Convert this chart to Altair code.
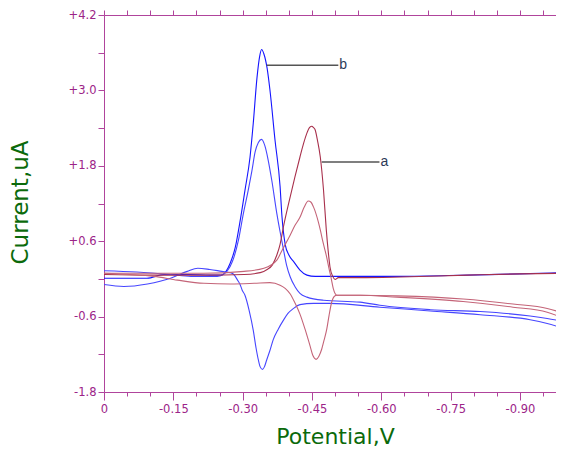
import altair as alt
import pandas as pd

# ---- data (potential in V, current in uA) ----
b_net_v = [0, -0.022, -0.093, -0.130, -0.186, -0.229, -0.253, -0.264, -0.273, -0.284, -0.294, -0.305,
           -0.316, -0.323, -0.331, -0.337, -0.341, -0.346, -0.353, -0.359, -0.370, -0.381, -0.385,
           -0.392, -0.400, -0.410, -0.424, -0.439, -0.457, -0.554, -0.641, -0.786, -0.900, -0.996]
b_net_i = [0.01, 0.01, 0.01, 0.07, 0.07, 0.06, 0.06, 0.12, 0.25, 0.50, 0.90, 1.41,
           1.94, 2.48, 3.20, 3.55, 3.65, 3.58, 3.35, 3.01, 2.21, 1.47, 1.00,
           0.55, 0.38, 0.28, 0.14, 0.06, 0.04, 0.04, 0.04, 0.06, 0.08, 0.10]

b_fwd_v = [0, -0.071, -0.144, -0.188, -0.245, -0.260, -0.267, -0.278, -0.291, -0.301, -0.312, -0.320,
           -0.327, -0.334, -0.341, -0.348, -0.355, -0.363, -0.374, -0.381, -0.388, -0.395, -0.403,
           -0.413, -0.424, -0.439, -0.475, -0.554, -0.597, -0.706, -0.814, -0.922, -0.959, -0.996]
b_fwd_i = [0.13, 0.11, 0.07, 0.04, 0.04, 0.08, 0.13, 0.28, 0.62, 1.02, 1.41, 1.72,
           2.02, 2.17, 2.22, 2.12, 1.90, 1.57, 1.04, 0.75, 0.48, 0.22, 0.03,
           -0.12, -0.23, -0.29, -0.34, -0.37, -0.42, -0.49, -0.52, -0.59, -0.63, -0.68]

b_rev_v = [0, -0.043, -0.094, -0.144, -0.180, -0.203, -0.229, -0.255, -0.273, -0.281, -0.289, -0.294,
           -0.299, -0.305, -0.314, -0.323, -0.329, -0.334, -0.338, -0.343, -0.347, -0.352, -0.359,
           -0.366, -0.377, -0.388, -0.398, -0.410, -0.424, -0.453, -0.489, -0.597, -0.706, -0.814,
           -0.922, -0.959, -0.996]
b_rev_i = [-0.09, -0.12, -0.08, 0.01, 0.12, 0.17, 0.15, 0.12, 0.10, 0.07, -0.02, -0.08,
           -0.18, -0.26, -0.50, -0.82, -1.10, -1.29, -1.40, -1.44, -1.40, -1.29, -1.14,
           -0.97, -0.80, -0.66, -0.55, -0.47, -0.41, -0.39, -0.39, -0.45, -0.51, -0.57,
           -0.65, -0.71, -0.79]

a_net_v = [0, -0.100, -0.216, -0.303, -0.338, -0.353, -0.364, -0.374, -0.381, -0.388, -0.403, -0.413,
           -0.424, -0.432, -0.439, -0.445, -0.450, -0.453, -0.457, -0.462, -0.468, -0.475, -0.481,
           -0.485, -0.489, -0.495, -0.500, -0.507, -0.554, -0.641, -0.786, -0.900, -0.996]
a_net_i = [0.07, 0.06, 0.06, 0.07, 0.10, 0.15, 0.22, 0.38, 0.55, 0.82, 1.31, 1.62,
           1.94, 2.16, 2.32, 2.41, 2.43, 2.41, 2.37, 2.20, 1.94, 1.41, 0.78,
           0.45, 0.19, 0.04, -0.01, 0.02, 0.02, 0.03, 0.06, 0.08, 0.09]

a_fwd_v = [0, -0.143, -0.216, -0.303, -0.346, -0.374, -0.387, -0.403, -0.413, -0.424, -0.433, -0.442,
           -0.448, -0.453, -0.464, -0.468, -0.474, -0.482, -0.487, -0.491, -0.496, -0.504, -0.554,
           -0.634, -0.777, -0.885, -0.959, -0.996]
a_fwd_i = [0.09, 0.09, 0.09, 0.12, 0.17, 0.30, 0.48, 0.70, 0.85, 0.98, 1.14, 1.24,
           1.22, 1.15, 0.90, 0.78, 0.58, 0.34, 0.16, 0.03, -0.15, -0.26, -0.26,
           -0.27, -0.32, -0.40, -0.47, -0.55]

a_rev_v = [0, -0.056, -0.108, -0.159, -0.216, -0.274, -0.325, -0.359, -0.381, -0.392, -0.403, -0.413,
           -0.424, -0.435, -0.446, -0.452, -0.459, -0.465, -0.471, -0.476, -0.482, -0.487, -0.493,
           -0.498, -0.504, -0.554, -0.634, -0.777, -0.885, -0.959, -0.996]
a_rev_i = [0.09, 0.07, 0.04, -0.02, -0.07, -0.08, -0.07, -0.06, -0.10, -0.15, -0.24, -0.38,
           -0.56, -0.80, -1.07, -1.22, -1.28, -1.23, -1.12, -0.98, -0.80, -0.58, -0.36,
           -0.28, -0.26, -0.26, -0.29, -0.36, -0.45, -0.53, -0.63]

series_names = ["b_net", "b_fwd", "b_rev", "a_net", "a_fwd", "a_rev"]
series_colors = ["#1414ff", "#4646ff", "#4646ff", "#a8304c", "#c46478", "#c46478"]

# leader lines and curve labels
lead_label = ["b", "a"]
lead_v1 = [-0.352, -0.471]
lead_v2 = [-0.507, -0.596]
lead_i = [3.40, 1.86]

x_major = [0, -0.15, -0.30, -0.45, -0.60, -0.75, -0.90]
x_minor = [0, -0.05, -0.10, -0.15, -0.20, -0.25, -0.30, -0.35, -0.40, -0.45, -0.50,
           -0.55, -0.60, -0.65, -0.70, -0.75, -0.80, -0.85, -0.90, -0.95]
y_ticks = [-1.8, -1.2, -0.6, 0.0, 0.6, 1.2, 1.8, 2.4, 3.0, 3.6, 4.2]

# ---- build table ----
rows = []
for name, vs, cs in [("b_net", b_net_v, b_net_i), ("b_fwd", b_fwd_v, b_fwd_i), ("b_rev", b_rev_v, b_rev_i),
                     ("a_net", a_net_v, a_net_i), ("a_fwd", a_fwd_v, a_fwd_i), ("a_rev", a_rev_v, a_rev_i)]:
    for v, c in zip(vs, cs):
        rows.append({"s": name, "V": v, "I": c})
df = pd.DataFrame(rows)
lead_df = pd.DataFrame({"label": lead_label, "x1": lead_v1, "x2": lead_v2, "y": lead_i})

AX = "#b0449c"
LAB = "#9c2488"
GREEN = "#0b6a0b"

xscale = alt.Scale(domain=[0, -0.978], nice=False, zero=False)
yscale = alt.Scale(domain=[-1.8, 4.2], nice=False, zero=False)

x_major_axis = alt.Axis(
    orient="bottom", values=x_major, tickSize=8, tickColor=AX, domainColor=AX, grid=False,
    labelExpr="abs(datum.value) < 0.001 ? '0' : '-' + format(abs(datum.value), '.2f')",
    labelFont="DejaVu Sans", labelFontSize=11.5, labelColor=LAB, labelPadding=3,
    labelFlush=False, labelOverlap=False,
    title="Potential,V", titleFont="DejaVu Sans", titleFontSize=22, titleFontWeight="normal",
    titleColor=GREEN, titleBaseline="alphabetic", titleY=51, titleX=231, titleAlign="center",
)
x_minor_axis = alt.Axis(orient="bottom", values=x_minor, tickSize=4, tickColor=AX,
                        labels=False, domain=False, grid=False, title=None)
x_top_axis = alt.Axis(orient="top", values=x_minor, tickSize=5, tickColor=AX, domainColor=AX,
                      labels=False, grid=False, title=None)
y_axis = alt.Axis(
    orient="left", values=y_ticks, tickSize=6, tickColor=AX, domainColor=AX, grid=False,
    labelExpr="abs(round((datum.value + 1.8) / 0.6)) % 2 == 0 ? "
              "((datum.value > 0.001 ? '+' : (datum.value < -0.001 ? '-' : '')) + format(abs(datum.value), '.1f')) : ''",
    labelFont="DejaVu Sans", labelFontSize=11.5, labelColor=LAB, labelPadding=2,
    title="Current,uA", titleFont="DejaVu Sans", titleFontSize=23, titleFontWeight="normal",
    titleColor=GREEN, titleAngle=270, titleBaseline="alphabetic", titleX=-77, titleY=187,
    titleAlign="center",
)

lines = alt.Chart(df).mark_line(interpolate="monotone", strokeWidth=1.1, clip=True).encode(
    x=alt.X("V:Q", scale=xscale, axis=x_major_axis),
    y=alt.Y("I:Q", scale=yscale, axis=y_axis),
    color=alt.Color("s:N", scale=alt.Scale(domain=series_names, range=series_colors), legend=None),
    detail="s:N",
)

leaders = alt.Chart(lead_df).mark_rule(color="#555555", strokeWidth=1.5).encode(
    x=alt.X("x1:Q", scale=xscale, axis=x_minor_axis),
    x2="x2:Q",
    y=alt.Y("y:Q", scale=yscale, axis=None),
)

texts = alt.Chart(lead_df).mark_text(align="left", baseline="middle", dx=1, font="Liberation Sans",
                                     fontSize=14, color="#2c3a58").encode(
    x=alt.X("x2:Q", scale=xscale, axis=x_top_axis),
    y=alt.Y("y:Q", scale=yscale, axis=None),
    text="label:N",
)

chart = alt.layer(lines, leaders, texts).resolve_axis(x="independent", y="independent").properties(
    width=452, height=377,
    autosize=alt.AutoSizeParams(type="none"),
    padding={"left": 96, "top": 7, "right": 0, "bottom": 57},
).configure_view(stroke=None).configure(background="white")

chart.save("out.html", embed_options={"renderer": "svg", "actions": False})
